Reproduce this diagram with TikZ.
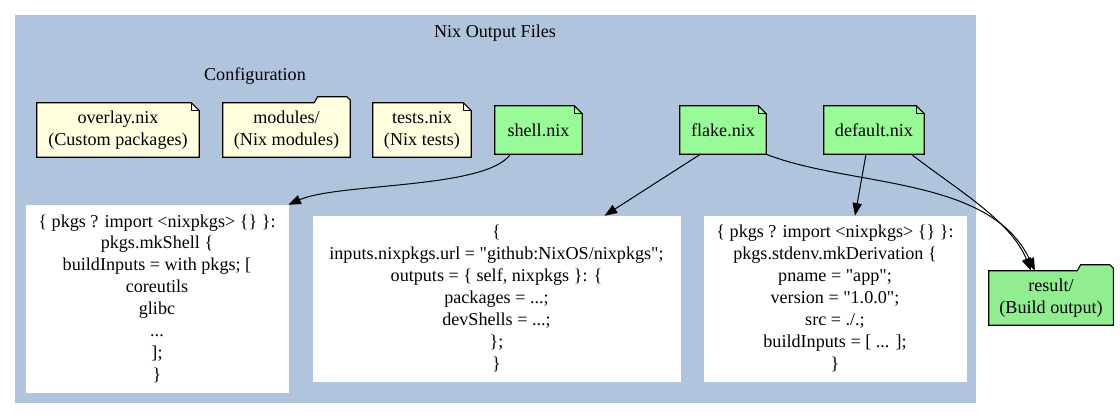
\documentclass[tikz,border=0pt]{standalone}
\usepackage{fontspec}
\setmainfont{Liberation Serif}[Ligatures=TeXOff]
\usetikzlibrary{arrows.meta,backgrounds}

\definecolor{clusterblue}{HTML}{B0C4DE}
\definecolor{noteyellow}{HTML}{FFFFE0}
\definecolor{notegreen}{HTML}{98FB98}
\definecolor{resultgreen}{HTML}{90EE90}

\tikzset{
	file/.style={inner sep=0pt, align=center, font=\fontsize{13.6}{16.4}\selectfont},
	code/.style={file, fill=white, draw=white},
	link/.style={-{Triangle[length=9.5pt,width=7pt]}, line width=0.75pt},
	outline/.style={line width=0.8pt, draw=black},
}

% note shape: corner folded at top right
\newcommand{\notebox}[2]{%
	\filldraw[outline, fill=#2] (#1.south west) -- (#1.north west) -- ([xshift=-6pt]#1.north east) -- ([yshift=-6pt]#1.north east) -- (#1.south east) -- cycle;
	\draw[outline] ([xshift=-6pt]#1.north east) |- ([yshift=-6pt]#1.north east);}
% folder shape: tab at top right
\newcommand{\folderbox}[2]{%
	\filldraw[outline, fill=#2] (#1.south west) -- (#1.north west) -- ([xshift=-27pt]#1.north east) -- ([xshift=-24.5pt,yshift=4.5pt]#1.north east) -- ([xshift=-2.5pt,yshift=4.5pt]#1.north east) -- ([yshift=2pt]#1.north east) -- (#1.south east) -- cycle;}

\begin{document}
\begin{tikzpicture}[x=0.75pt,y=-0.75pt]
	\useasboundingbox (0,0) rectangle (1120,419);
	\node[file] (title) at (495,33) {Nix Output Files};
	\node[file] (config) at (255,76) {Configuration};

	\node[file, minimum width=121.5pt, minimum height=40.5pt] (overlay) at (118,130) {overlay.nix\\(Custom packages)};
	\node[file, minimum width=95.25pt, minimum height=40.5pt] (modules) at (286.5,130) {modules/\\(Nix modules)};
	\node[file, minimum width=73.5pt, minimum height=40.5pt] (tests) at (422,130) {tests.nix\\(Nix tests)};
	\node[file, minimum width=65.25pt, minimum height=36pt] (shellnix) at (538.5,130) {shell.nix};
	\node[file, minimum width=64.5pt, minimum height=36pt] (flakenix) at (723,130) {flake.nix};
	\node[file, minimum width=75pt, minimum height=36pt] (defaultnix) at (874,130) {default.nix};

	\node[code, minimum width=196.5pt, minimum height=140.25pt] (shellcode) at (157,298.5) {\{ pkgs ? import <nixpkgs> \{\} \}:\\pkgs.mkShell \{\\buildInputs = with pkgs; [\\coreutils\\glibc\\...\\];\\\}};
	\node[code, minimum width=275.25pt, minimum height=123.75pt] (flakecode) at (496.5,298.5) {\{\\inputs.nixpkgs.url = "github:NixOS/nixpkgs";\\outputs = \{ self, nixpkgs \}: \{\\packages = ...;\\devShells = ...;\\\};\\\}};
	\node[code, minimum width=196.5pt, minimum height=123.75pt] (defaultcode) at (835,298.5) {\{ pkgs ? import <nixpkgs> \{\} \}:\\pkgs.stdenv.mkDerivation \{\\pname = "app";\\version = "1.0.0";\\src = ./.;\\buildInputs = [ ... ];\\\}};

	\node[file, minimum width=93pt, minimum height=40.5pt] (result) at (1051,298) {result/\\(Build output)};

	\begin{pgfonlayer}{background}
		\fill[clusterblue] (15,15) rectangle (976,403);
		\notebox{overlay}{noteyellow}
		\folderbox{modules}{noteyellow}
		\notebox{tests}{noteyellow}
		\notebox{shellnix}{notegreen}
		\notebox{flakenix}{notegreen}
		\notebox{defaultnix}{notegreen}
		\folderbox{result}{resultgreen}
	\end{pgfonlayer}

	\draw[link] ([xshift=-21pt]shellnix.south) .. controls +(-25,35) and +(50,-22) .. (shellcode.north east);
	\draw[link] ([xshift=-17pt]flakenix.south) -- ([xshift=81pt]flakecode.north);
	\draw[link] ([xshift=-6pt]defaultnix.south) -- ([xshift=15pt]defaultcode.north);
	\draw[link] (flakenix.south east) .. controls +(84,33) and +(-45,-95) .. ([xshift=-12pt]result.north);
	\draw[link] ([xshift=28pt]defaultnix.south) .. controls +(45,35) and +(-20,-50) .. ([xshift=-15pt]result.north);
\end{tikzpicture}
\end{document}
